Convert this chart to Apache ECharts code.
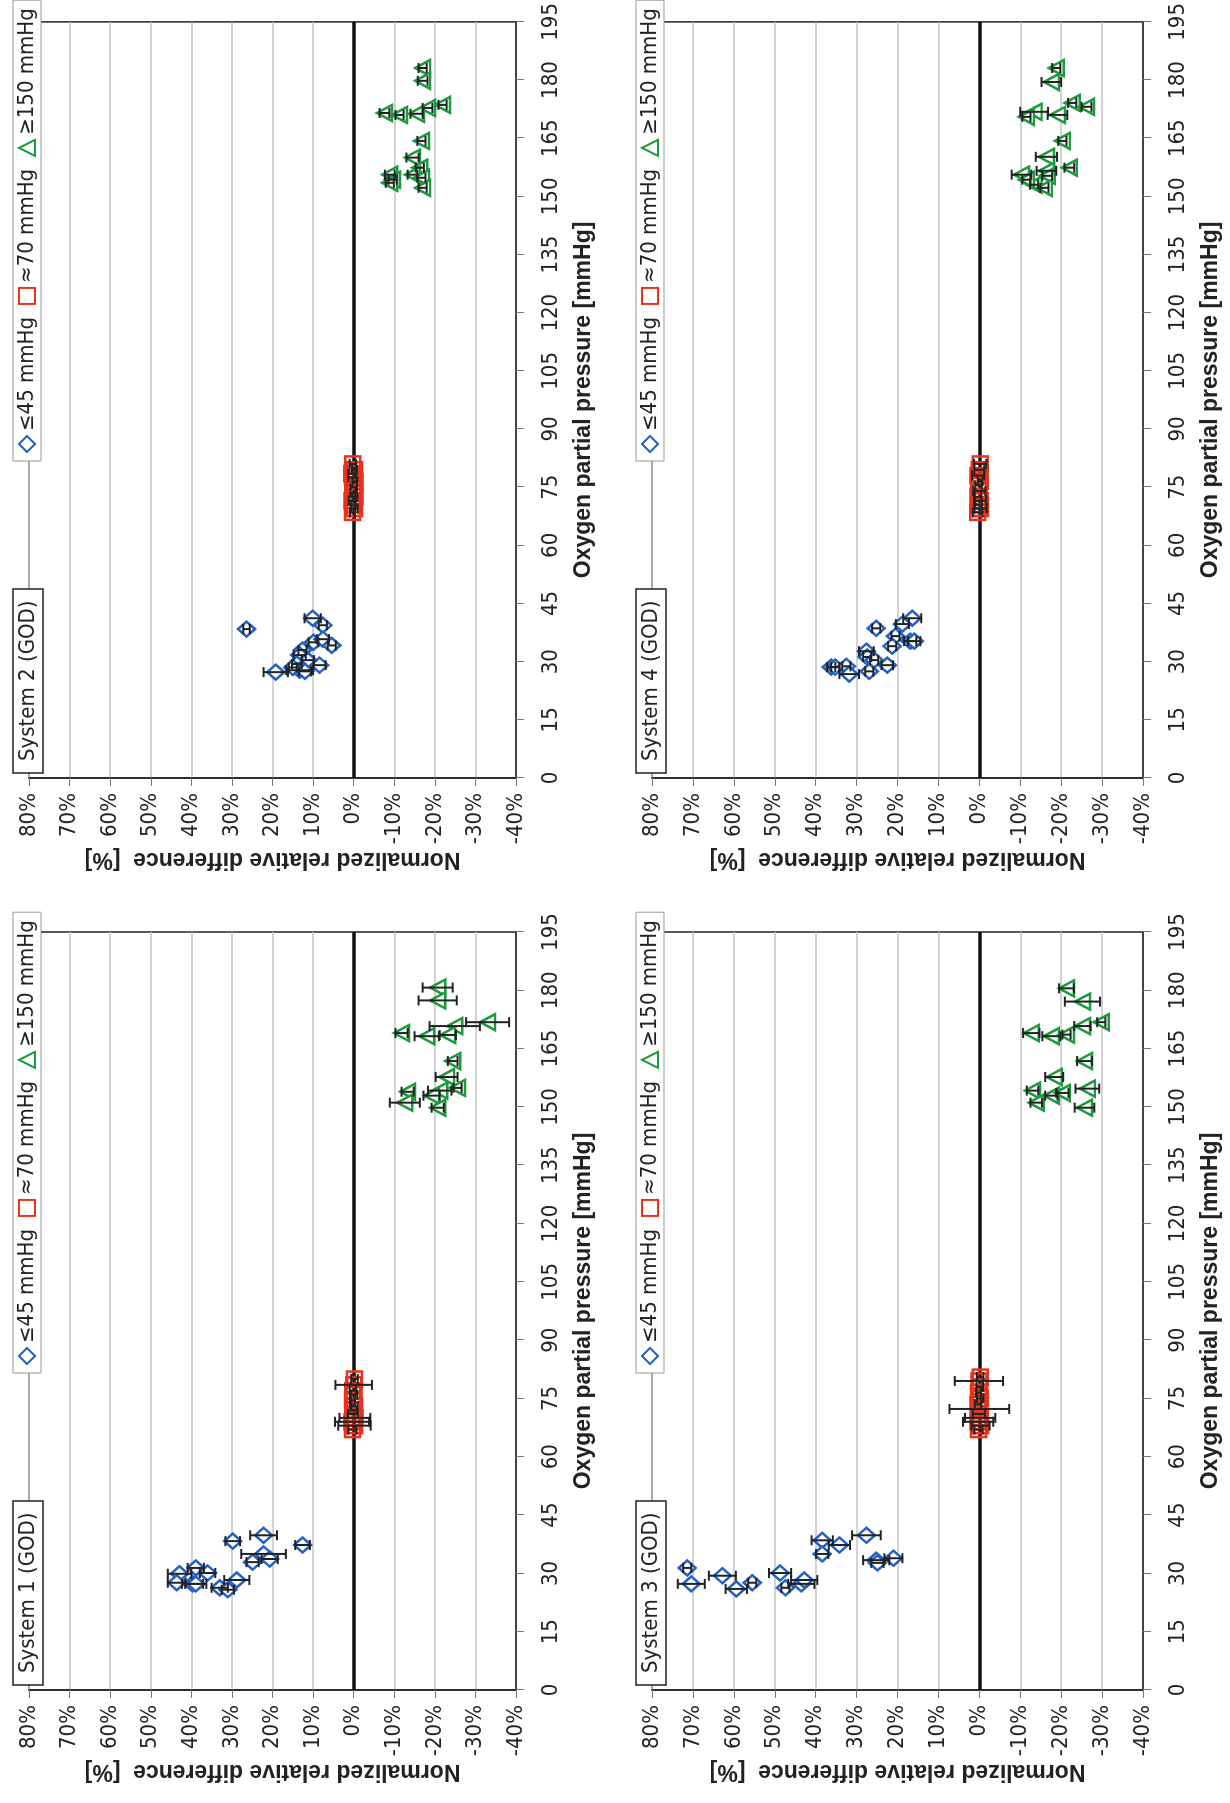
<!DOCTYPE html>
<html>
<head>
<meta charset="utf-8">
<script src="https://cdn.jsdelivr.net/npm/echarts@6/dist/echarts.min.js"></script>
<style>
html, body { margin: 0; padding: 0; background: #fff; }
#page { position: relative; width: 1230px; height: 1803px; overflow: hidden; }
/* the figure is drawn landscape and turned a quarter turn counter-clockwise */
#chart { position: absolute; left: 0; top: 0; width: 1803px; height: 1230px;
         transform-origin: 0 0; transform: rotate(-90deg) translate(-1803px, 0); }
</style>
</head>
<body>
<div id="page"><div id="chart"></div></div>
<script>
// [pressure mmHg, relative difference %, error %]
var systemNames = ['System 1 (GOD)', 'System 2 (GOD)', 'System 3 (GOD)', 'System 4 (GOD)'];
var groupNames = ['≤45 mmHg', '≈70 mmHg', '≥150 mmHg'];

var sys1Low = [[38.3,29.8,1.8],[39.8,22.2,3.3],[37.3,12.6,1.8],[35.0,22.2,5.5],[33.7,20.7,2.0],[32.9,24.9,1.5],
    [31.4,38.9,2.0],[30.1,36.0,1.9],[29.9,42.9,2.9],[27.6,43.6,2.2],[27.3,39.7,2.6],[27.3,38.9,2.6],
    [28.3,28.8,3.1],[26.3,33.0,2.0],[25.8,31.0,1.5]];
var sys1Mid = [[67,0.3,1.0],[68,-0.2,4.0],[69,0.4,4.2],[70,-0.3,3.8],[71,0.2,1.2],[72,0,0.8],
    [73,-0.2,0.8],[74.5,0.3,0.6],[76,-0.1,0.8],[77,0.2,0.8],[78.5,0,4.5],[80,-0.2,0.8]];
var sys1High = [[180.7,-20.7,3.7],[177.4,-20.7,4.7],[171.8,-33.0,5.3],[170.8,-24.9,6.2],[169.0,-11.8,1.5],
    [168.2,-18.0,3.0],[168.5,-23.2,2.0],[161.8,-24.4,1.2],[157.7,-22.9,2.7],[154.9,-25.6,1.0],[153.9,-13.3,1.5],
    [154.2,-21.2,2.9],[152.9,-19.2,2.0],[151.1,-12.6,3.7],[149.8,-20.7,1.5]];

var sys2Low = [[38.4,26.4,0.8],[41.2,10.1,2.0],[39.4,7.6,1.0],[35.0,9.9,1.2],[35.8,7.6,1.5],[34.2,5.4,1.0],
    [33.0,12.6,1.0],[31.7,13.3,1.5],[30.4,11.3,1.5],[29.4,14.0,1.2],[29.1,8.4,1.5],[27.8,13.3,3.3],
    [27.3,19.2,3.0],[28.5,15.0,1.0],[27.5,12.0,1.5]];
var sys2Mid = [[68.5,0.3,0.6],[69.5,-0.2,0.8],[70.5,0.1,0.6],[71.5,0.4,0.8],[72.5,-0.3,0.6],[73.5,0.2,0.6],
    [75,0,0.8],[76.5,-0.3,0.6],[77.5,0.3,1.0],[78.5,0.5,0.8],[79.5,-0.2,0.6],[81,0.2,0.8]];
var sys2High = [[183.1,-17.0,1.0],[179.8,-17.0,1.2],[173.6,-21.9,1.0],[172.8,-18.2,1.2],[171.3,-15.5,1.5],
    [171.5,-7.6,1.2],[171.0,-11.3,1.0],[164.3,-16.7,1.0],[160.0,-14.5,1.5],[157.4,-16.3,1.0],[155.6,-8.9,1.2],
    [154.3,-9.6,1.0],[155.6,-14.5,1.2],[154.8,-16.7,1.0],[152.2,-17.0,1.0],[153.5,-8.9,1.0]];

var sys3Low = [[31.4,71.4,1.0],[27.3,70.4,3.3],[29.4,62.8,3.3],[26.0,59.4,2.6],[27.6,55.5,1.0],[30.1,48.7,2.7],
    [26.3,47.4,1.0],[27.3,43.5,3.2],[28.3,42.8,3.2],[38.5,38.4,2.6],[35.0,38.4,1.5],[37.3,34.2,2.6],
    [39.8,27.6,3.5],[33.4,25.2,3.2],[32.7,24.9,1.5],[33.9,21.0,2.2]];
var sys3Mid = [[67,0.2,1.0],[68,-0.3,2.2],[69,0.3,3.7],[70,-0.2,3.7],[71,0.1,1.5],[72.3,0,7.3],
    [73.5,0.3,0.8],[75,-0.2,0.8],[76.5,0.2,0.6],[78,-0.1,0.8],[79.5,0.1,5.9],[80.5,-0.2,0.8]];
var sys3High = [[180.5,-21.3,1.8],[177.1,-25.2,4.3],[171.8,-29.8,1.0],[170.8,-25.2,2.0],[169.0,-12.7,2.0],
    [168.2,-17.6,2.2],[168.6,-21.3,1.0],[161.8,-25.7,1.8],[157.7,-18.3,2.2],[154.7,-26.4,2.9],[154.2,-13.0,1.4],
    [152.9,-17.6,1.5],[153.6,-20.3,1.5],[151.1,-13.9,1.4],[149.8,-25.7,2.4]];

var sys4Low = [[41.2,16.4,2.2],[39.7,18.8,1.6],[38.6,25.2,1.0],[36.6,20.5,1.0],[35.3,16.9,1.5],[35.3,15.9,1.5],
    [34.0,21.3,1.0],[32.7,27.6,1.8],[31.2,27.4,1.0],[30.4,25.7,1.0],[29.1,22.5,1.4],[28.6,36.2,1.0],
    [28.6,35.2,1.0],[28.8,32.5,1.0],[26.8,31.8,2.4],[27.5,26.9,1.0]];
var sys4Mid = [[68.5,0.4,1.2],[69.5,-0.3,1.5],[70.5,0.2,0.8],[71.5,-0.2,1.5],[72.5,0.3,0.8],[74,0,1.5],
    [75.5,0.2,0.8],[76.5,-0.2,0.6],[78,0.3,1.5],[79.5,0,1.2],[81,-0.2,1.5]];
var sys4High = [[183.1,-18.8,1.0],[179.5,-17.6,2.4],[174.1,-22.7,1.0],[173.1,-26.2,1.2],[171.8,-13.4,3.4],
    [170.5,-11.5,1.0],[171.0,-19.1,2.4],[164.3,-20.3,1.0],[160.2,-16.4,2.6],[157.4,-22.0,1.2],[155.6,-10.3,2.4],
    [156.6,-16.4,2.4],[155.3,-16.6,1.2],[153.0,-13.4,1.0],[152.2,-15.9,1.0],[154.3,-11.5,1.0]];

var systems = [
    [sys1Low, sys1Mid, sys1High],
    [sys2Low, sys2Mid, sys2High],
    [sys3Low, sys3Mid, sys3High],
    [sys4Low, sys4Mid, sys4High]
];

var groupSymbols = ['diamond', 'rect', 'triangle'];
var groupSizes = [[15, 17], 15, [16, 15]];
var groupFills = ['#fff', 'rgba(255,255,255,0)', '#fff'];
var groupColors = ['#2461c2', '#e8321e', '#1d9a3e'];

// landscape layout, in px of the un-rotated figure
var panels = [
    {left: 113, top: 29, width: 758, height: 487},
    {left: 1025, top: 29, width: 758, height: 487},
    {left: 113, top: 652, width: 758, height: 491},
    {left: 1025, top: 652, width: 758, height: 491}
];

var narrow = "'Liberation Sans Narrow', 'Arial Narrow', 'DejaVu Sans Condensed', sans-serif";

var renderErrorBar = function(params, api){
    var lo = api.coord([api.value(0), api.value(1)]);
    var hi = api.coord([api.value(0), api.value(2)]);
    var cap = 5;
    var style = {stroke: '#222', lineWidth: 2};
    return {
        type: 'group',
        children: [
            {type: 'line', shape: {x1: lo[0], y1: lo[1], x2: hi[0], y2: hi[1]}, style: style},
            {type: 'line', shape: {x1: lo[0] - cap, y1: lo[1], x2: lo[0] + cap, y2: lo[1]}, style: style},
            {type: 'line', shape: {x1: hi[0] - cap, y1: hi[1], x2: hi[0] + cap, y2: hi[1]}, style: style}
        ]
    };
};

var grid = [], xAxis = [], yAxis = [], title = [], legend = [], series = [];

panels.forEach(function(p, i){
    grid.push({left: p.left, top: p.top, width: p.width, height: p.height,
        show: true, borderColor: '#222', borderWidth: 1.5});

    xAxis.push({
        gridIndex: i, type: 'value', min: 0, max: 195, interval: 15,
        name: 'Oxygen partial pressure [mmHg]', nameLocation: 'middle', nameGap: 56,
        nameTextStyle: {fontSize: 23, fontWeight: 'bold', color: '#222', fontFamily: 'Liberation Sans'},
        axisLine: {show: true, onZero: false, lineStyle: {color: '#222', width: 1.5}},
        axisTick: {show: true, length: 8, lineStyle: {color: '#777'}},
        axisLabel: {fontSize: 22, margin: 24, color: '#222', fontFamily: narrow},
        splitLine: {show: false}
    });

    yAxis.push({
        gridIndex: i, type: 'value', min: -40, max: 80, interval: 10,
        name: 'Normalized relative difference  [%]', nameLocation: 'middle', nameGap: 68,
        nameTextStyle: {fontSize: 23, fontWeight: 'bold', color: '#222', fontFamily: 'Liberation Sans'},
        axisLine: {show: true, lineStyle: {color: '#222', width: 1.5}},
        axisTick: {show: true, length: 8, lineStyle: {color: '#777'}},
        axisLabel: {fontSize: 22, margin: 15, color: '#222', fontFamily: narrow, formatter: '{value}%'},
        splitLine: {show: true, lineStyle: {color: '#c4c4c4', width: 1.5}}
    });

    title.push({
        text: systemNames[i], left: p.left + 5, top: p.top - 16,
        padding: [4, 12], borderColor: '#222', borderWidth: 1.5, backgroundColor: '#fff',
        textStyle: {fontSize: 22, fontWeight: 'normal', color: '#222', fontFamily: narrow}
    });

    legend.push({
        data: groupNames, left: p.left + 317, top: p.top - 16, width: 480, orient: 'horizontal',
        padding: [3, 8], itemWidth: 16, itemHeight: 16, itemGap: 12,
        borderColor: '#999', borderWidth: 1, backgroundColor: '#fff',
        textStyle: {fontSize: 22, color: '#222', fontFamily: narrow}
    });

    var bars = [];
    systems[i].forEach(function(group, g){
        series.push({
            name: groupNames[g], type: 'scatter', xAxisIndex: i, yAxisIndex: i,
            symbol: groupSymbols[g], symbolSize: groupSizes[g], z: 2,
            itemStyle: {color: groupFills[g], borderColor: groupColors[g], borderWidth: 2.5, opacity: 1},
            data: group.map(function(d){ return [d[0], d[1]]; }),
            markLine: g === 0 ? {
                silent: true, symbol: 'none', z: 1,
                label: {show: false},
                lineStyle: {color: '#111', width: 3.5, type: 'solid'},
                data: [{yAxis: 0}]
            } : undefined
        });
        group.forEach(function(d){ bars.push([d[0], d[1] - d[2], d[1] + d[2]]); });
    });
    series.push({
        type: 'custom', xAxisIndex: i, yAxisIndex: i, z: 3,
        renderItem: renderErrorBar, data: bars
    });
});

var myChart = echarts.init(document.getElementById('chart'));
myChart.setOption({
    backgroundColor: '#fff',
    animation: false,
    title: title,
    legend: legend,
    grid: grid,
    xAxis: xAxis,
    yAxis: yAxis,
    series: series
});
</script>
</body>
</html>
